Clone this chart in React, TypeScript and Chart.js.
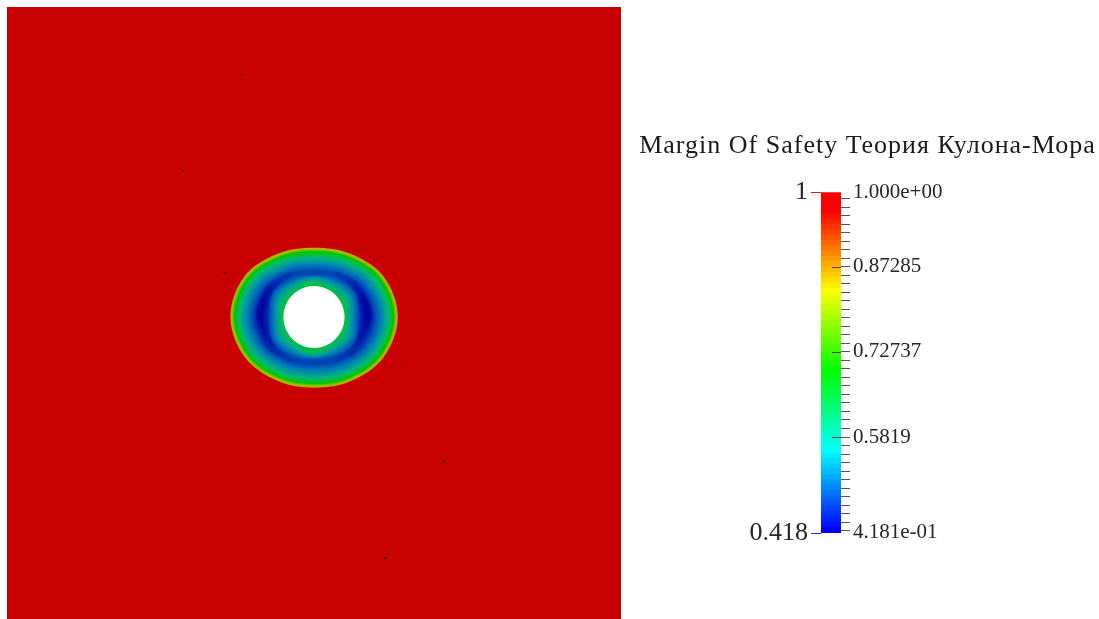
import React, { useEffect, useRef } from "react";
import { Chart, registerables } from "chart.js";

Chart.register(...registerables);

const titleText = "Margin Of Safety Теория Кулона-Мора";
const scaleMin = 0.418;
const scaleMax = 1;
const labelledTicks: [number, string][] = [
  [1, "1.000e+00"],
  [0.87285, "0.87285"],
  [0.72737, "0.72737"],
  [0.5819, "0.5819"],
  [0.4181, "4.181e-01"],
];
const minorTicks = [
  0.989234, 0.974686, 0.960138, 0.94559, 0.931042, 0.916494, 0.901946, 0.887398,
  0.858302, 0.843754, 0.829206, 0.814658, 0.80011, 0.785562, 0.771014, 0.756466, 0.741918,
  0.712822, 0.698274, 0.683726, 0.669178, 0.65463, 0.640082, 0.625534, 0.610986, 0.596438,
  0.567352, 0.552804, 0.538256, 0.523708, 0.50916, 0.494612, 0.480064, 0.465516, 0.450968, 0.43642, 0.421872,
];
const innerMajorTicks = [0.87285, 0.72737, 0.5819];
const leftTicks: [number, string, string][] = [
  [1, "1", "#f01010"],
  [0.418, "0.418", "#2a2af0"],
];
// colour table of the scalar bar, lowest band first
const bandColors = [
  "#0000ff","#0011ff","#0022ff","#0033ff","#0044ff","#0055ff","#0066ff","#0077ff",
  "#0088ff","#0099ff","#00aaff","#00bbff","#00ccff","#00ddff","#00eeff","#00ffff",
  "#00ffee","#00ffdd","#00ffcc","#00ffbb","#00ffaa","#00ff99","#00ff88","#00ff77",
  "#00ff66","#00ff55","#00ff44","#00ff33","#00ff22","#00ff11","#00ff00","#11ff00",
  "#22ff00","#33ff00","#44ff00","#55ff00","#66ff00","#77ff00","#88ff00","#99ff00",
  "#aaff00","#bbff00","#ccff00","#ddff00","#eeff00","#ffff00","#ffee00","#ffdd00",
  "#ffcc00","#ffbb00","#ffaa00","#ff9900","#ff8800","#ff7700","#ff6600","#ff5500",
  "#ff4400","#ff3300","#ff2200","#ff1100","#ff0000","#ff0000","#ff0000","#ff0000",
];

// field contours: radii from the hole centre at 0,30,...,330 degrees
const ringAngles = [0, 30, 60, 90, 120, 150, 180, 210, 240, 270, 300, 330];
const outerRingColors = [
  "#c8a800","#98c000","#50c400","#00c400","#00c040","#00b870",
  "#00a490","#0090a8","#007cb4","#0064b8","#0050b8","#0044b4",
];
const outerRings = [
  [83.8,80.6,73,69.3,73,80.6,83.6,80,73.6,70.7,74,80.4],
  [82.8,79.6,72,68.3,72,79.6,82.6,79,72.6,69.7,73,79.4],
  [81.6,78.4,70.8,67.1,70.8,78.4,81.4,77.8,71.4,68.5,71.8,78.2],
  [80.2,77,69.4,65.7,69.4,77,80,76.4,70,67.1,70.4,76.8],
  [78.3,75.1,67.5,63.8,67.5,75.1,78.1,74.5,68.1,65.2,68.5,74.9],
  [75.8,72.6,65,61.3,65,72.6,75.6,72,65.6,62.7,66,72.4],
  [72.8,69.6,62,58.3,62,69.6,72.6,69,62.6,59.7,63,69.4],
  [70.3,67.1,59.5,55.8,59.5,67.1,70.1,66.5,60.1,57.2,60.5,66.9],
  [67.8,64.6,57,53.3,57,64.6,67.6,64,57.6,54.7,58,64.4],
  [65.3,62.1,54.5,50.8,54.5,62.1,65.1,61.5,55.1,52.2,55.5,61.9],
  [62.8,59.6,52,48.3,52,59.6,62.6,59,52.6,49.7,53,59.4],
  [60.8,57.6,50,46.3,50,57.6,60.6,57,50.6,47.7,51,57.4],
];
const innerRingColors = [
  "#0050b8","#0064b8","#007cb4","#0090a8","#00a490","#00b078","#00b860","#00c040",
];
const innerRings = [
  [45,48,46,42.5,46,48,45,48,46,43,46,48],
  [43,46.5,44,41.5,44,46.5,43,46.5,44,42,44,46.5],
  [41,44.5,42,40.5,42,44.5,41,44.5,42,41,42,44.5],
  [39,42.5,40,39.5,40,42.5,39,42.5,40,40,40,42.5],
  [37,40,38,38.5,38,40,37,40,38,39,38,40],
  [35.5,37.5,36,37,36,37.5,35.5,37.5,36,37.5,36,37.5],
  [34,35,34,35.5,34,35,34,35,34,36,34,35],
  [32.5,33,32.5,34,32.5,33,32.5,33,32.5,34,32.5,33],
];
const holeRadii = [30.6,30.7,30.9,31,30.9,30.7,30.6,30.7,30.9,31,30.9,30.7];

// low-value lobes either side of the hole
const lobeColors = ["#0038b2", "#002cb0", "#0020ac", "#0014a8", "#0008a4"];
const rightLobes = [
  [[60,0],[49.8,28.8],[34.1,40.6],[20.7,44.4],[28.9,34.5],[39,22.5],[44,0],[39,-22.5],[28.9,-34.5],[20.7,-44.4],[34.1,-40.6],[49.8,-28.8]],
  [[59,0],[48.5,28],[36,38],[33,33],[39,22],[46,0],[39,-22],[33,-33],[36,-38],[48.5,-28]],
  [[58,2],[51,24],[40,33],[41,22],[47,0],[42,-20],[41,-30],[50,-22]],
  [[58,3],[52,20],[44,28],[46,14],[49,0],[47,-12],[46,-22],[52,-16]],
  [[57,4],[53,16],[48,20],[50,6],[51,-4],[51,-12],[55,-8]],
];
const leftLobes = [
  [[-60,0],[-49.8,28.8],[-34.1,40.6],[-20.7,44.4],[-28.9,34.5],[-39,22.5],[-44,0],[-39,-22.5],[-28.9,-34.5],[-20.7,-44.4],[-34.1,-40.6],[-49.8,-28.8]],
  [[-59,0],[-48.5,28],[-36,38],[-33,33],[-39,22],[-46,0],[-39,-22],[-33,-33],[-36,-38],[-48.5,-28]],
  [[-58,2],[-51,24],[-40,33],[-41,22],[-47,0],[-42,-20],[-41,-30],[-50,-22]],
  [[-58,3],[-52,20],[-44,28],[-46,14],[-49,0],[-47,-12],[-46,-22],[-52,-16]],
  [[-57,4],[-53,16],[-48,20],[-50,6],[-51,-4],[-51,-12],[-55,-8]],
];
const plateCorners = [[-307,-302],[307,-302],[307,310],[-307,310]];
const specks = [[-73,242],[-131,146],[-90,44],[90,-45],[130,-144],[71,-241]];

const serif = "'Liberation Serif', serif";
const textColor = "#262626";

type Pt = { x: number; y: number };
const loop = (pts: Pt[]): Pt[] => [pts[pts.length - 1], ...pts, pts[0], pts[1]];
const ringPoints = (radii: number[]): Pt[] =>
  loop(radii.map((r, i) => ({
    x: r * Math.cos((ringAngles[i] * Math.PI) / 180),
    y: r * Math.sin((ringAngles[i] * Math.PI) / 180),
  })));
const area = (data: Pt[], color: string, tension = 0.35) => ({
  data, showLine: true, fill: "shape", backgroundColor: color, borderWidth: 0,
  pointRadius: 0, tension,
});
const xy = (p: number[][]) => p.map(([x, y]) => ({ x, y }));

export default function App() {
  const fieldRef = useRef<HTMLCanvasElement>(null);
  const barRef = useRef<HTMLCanvasElement>(null);

  useEffect(() => {
    // painted bottom layer first
    const layers: any[] = [
      area(xy(plateCorners), "#c80000", 0),
      ...outerRings.map((r, i) => area(ringPoints(r), outerRingColors[i])),
      ...lobeColors.flatMap((c, i) => [
        area(loop(xy(rightLobes[i])), c),
        area(loop(xy(leftLobes[i])), c),
      ]),
      ...innerRings.map((r, i) => area(ringPoints(r), innerRingColors[i])),
      area(ringPoints(holeRadii), "#ffffff"),
      { data: xy(specks), showLine: false, pointRadius: 1, pointBorderWidth: 0, pointBackgroundColor: "#300000" },
    ];
    const field = new Chart(fieldRef.current!, {
      type: "scatter",
      data: { datasets: layers.reverse() },
      options: {
        animation: false, responsive: false, events: [],
        layout: { padding: 0, autoPadding: false },
        plugins: { legend: { display: false }, tooltip: { enabled: false } },
        scales: {
          x: { type: "linear", display: false, min: plateCorners[0][0], max: plateCorners[1][0] },
          y: { type: "linear", display: false, min: plateCorners[0][1], max: plateCorners[2][1] },
        },
      },
    } as any);

    const rightValues = [...labelledTicks.map((t) => t[0]), ...minorTicks].sort((a, b) => a - b);
    const majorInner = {
      id: "majorInner",
      afterDatasetsDraw(chart: any) {
        const { ctx, chartArea, scales } = chart;
        ctx.save();
        ctx.strokeStyle = "#444444";
        ctx.lineWidth = 1;
        for (const v of innerMajorTicks) {
          const y = Math.round(scales.y.getPixelForValue(v)) + 0.5;
          ctx.beginPath();
          ctx.moveTo(chartArea.right - 9, y);
          ctx.lineTo(chartArea.right, y);
          ctx.stroke();
        }
        ctx.restore();
      },
    };
    const titleSpacing = {
      id: "titleSpacing",
      beforeDraw(chart: any) {
        const block = chart.titleBlock;
        if (!block || block.__spaced) return;
        const draw = block.draw;
        block.draw = function (...args: any[]) {
          const ctx = chart.ctx;
          ctx.save();
          ctx.letterSpacing = "1px";
          draw.apply(this, args);
          ctx.restore();
        };
        block.__spaced = true;
      },
    };
    const bar = new Chart(barRef.current!, {
      type: "bar",
      data: {
        labels: ["bar"],
        datasets: bandColors.map((c, i) => ({
          data: [[scaleMin, scaleMin + ((scaleMax - scaleMin) * (i + 1)) / bandColors.length]],
          backgroundColor: c, borderWidth: 0, grouped: false,
          barPercentage: 1, categoryPercentage: 1, yAxisID: "y",
        })),
      },
      plugins: [majorInner, titleSpacing],
      options: {
        animation: false, responsive: false, events: [],
        layout: { padding: { bottom: 86 } },
        plugins: {
          legend: { display: false }, tooltip: { enabled: false },
          title: {
            display: true, text: titleText, color: "#1a1a1a",
            font: { family: serif, size: 26, weight: "normal" },
            padding: { top: 131, bottom: 30 },
          },
        },
        scales: {
          x: { display: false },
          y: {
            position: "right", min: scaleMin, max: scaleMax,
            border: { display: false },
            afterBuildTicks: (s: any) => { s.ticks = rightValues.map((value) => ({ value })); },
            afterFit: (s: any) => { s.width = 258; },
            grid: {
              drawOnChartArea: false, tickLength: 9, tickWidth: 1,
              tickColor: (c: any) => {
                const v = c.tick?.value;
                return v === 1 || v === 0.4181 ? "rgba(0,0,0,0)" : "#555555";
              },
            },
            ticks: {
              autoSkip: false, maxRotation: 0, padding: 3, color: textColor,
              font: { family: serif, size: 21 },
              callback: (v: any) => labelledTicks.find((t) => t[0] === v)?.[1] ?? "",
            },
          },
          yLeft: {
            position: "left", min: scaleMin, max: scaleMax,
            border: { display: false },
            afterBuildTicks: (s: any) => { s.ticks = leftTicks.map((t) => ({ value: t[0] })); },
            afterFit: (s: any) => { s.width = 185; },
            grid: {
              drawOnChartArea: false, tickLength: 10, tickWidth: 1,
              tickColor: (c: any) => leftTicks.find((t) => t[0] === c.tick?.value)?.[2] ?? "#000",
            },
            ticks: {
              autoSkip: false, maxRotation: 0, padding: 3, color: textColor,
              font: { family: serif, size: 26 },
              callback: (v: any) => leftTicks.find((t) => t[0] === v)?.[1] ?? "",
            },
          },
        },
      },
    } as any);
    return () => { field.destroy(); bar.destroy(); };
  }, []);

  return (
    <div style={{ position: "fixed", left: 0, top: 0, width: 1099, height: 619, background: "#fff", overflow: "hidden" }}>
      <canvas ref={fieldRef} width={614} height={612} style={{ position: "absolute", left: 7, top: 7, filter: "blur(0.6px)" }} />
      <canvas ref={barRef} width={463} height={619} style={{ position: "absolute", left: 636, top: 0, filter: "blur(0.4px)" }} />
    </div>
  );
}
